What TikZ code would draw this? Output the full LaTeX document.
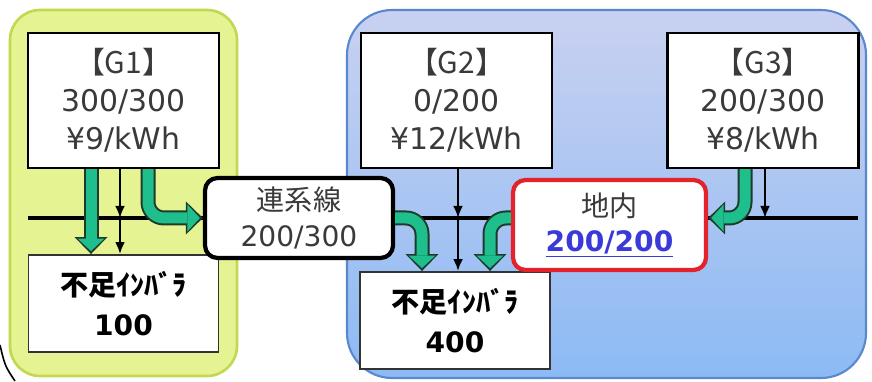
\documentclass[tikz,border=0pt]{standalone}
\usepackage{fontspec}
\setmainfont{DejaVu Sans}
\newfontfamily\jp{Noto Sans CJK JP}
\usetikzlibrary{arrows.meta}
\definecolor{limefill}{HTML}{E6F392}
\definecolor{limeline}{HTML}{C2D850}
\definecolor{bluetop}{HTML}{C9D1F1}
\definecolor{bluebot}{HTML}{8CBAF4}
\definecolor{blueline}{HTML}{5A88CC}
\definecolor{flowgreen}{HTML}{1EBF8C}
\definecolor{flowline}{HTML}{1E3A2A}
\definecolor{txtgray}{HTML}{3A3A3A}
\definecolor{linkblue}{HTML}{3A3AD8}
\definecolor{redline}{HTML}{E3222C}
\tikzset{
  genbox/.style={draw, line width=1.3pt, fill=white, minimum width=3.82cm,
    minimum height=2.7cm, align=center, text=txtgray,
    font=\fontsize{17}{21.5}\selectfont},
  needbox/.style={draw=black!80, line width=1.1pt, fill=white, minimum width=3.8cm,
    minimum height=1.94cm, align=center, font=\fontsize{16}{23}\selectfont\bfseries},
  tiebox/.style={draw, line width=2.4pt, rounded corners=0.25cm, fill=white,
    minimum width=3.76cm, minimum height=1.6cm, align=center, text=txtgray,
    font=\fontsize{16}{20}\selectfont},
  areabox/.style={tiebox, draw=redline, minimum width=3.86cm, minimum height=1.8cm},
  feed/.style={line width=1.5pt, -{Latex[length=0.24cm,width=0.2cm]}},
  flowout/.style={line width=0.3cm, draw=flowline, rounded corners=0.32cm,
    -{Triangle[length=0.34cm,width=0.66cm,line width=0pt]}},
  flowin/.style={line width=0.22cm, draw=flowgreen, rounded corners=0.32cm,
    -{Triangle[length=0.25cm,width=0.54cm,line width=0pt]}, shorten >=0.06cm}
}
\begin{document}
\begin{tikzpicture}
\useasboundingbox (0,0) rectangle (17.44,7.62);
% areas
\draw[limeline, fill=limefill, line width=1.5pt, rounded corners=0.6cm]
  (0.2,0.1) rectangle (4.74,7.42);
\draw[blueline, line width=1.2pt, rounded corners=0.9cm, top color=bluetop,
  bottom color=bluebot] (6.94,0.06) rectangle (17.32,7.42);
\draw[line width=0.9pt] (0,0.72) .. controls (0.1,0.3) .. (0.3,0);
% bus
\coordinate (bw) at (0.56,3.26);
\coordinate (be) at (17.16,3.26);
\draw[line width=2.2pt] (bw) -- (be);
% generators, tie line, shortage
\node[genbox] (g1) at (2.47,5.61) {{\jp【G1】}\\300/300\\¥9/kWh};
\node[genbox] (g2) at (9.13,5.61) {{\jp【G2】}\\0/200\\¥12/kWh};
\node[genbox] (g3) at (15.26,5.61) {{\jp【G3】}\\200/300\\¥8/kWh};
\node[needbox] (s1) at (2.47,1.55) {{\jp\bfseries 不足ｲﾝﾊﾞﾗ}\\100};
\node[needbox] (s2) at (9.1,1.21) {{\jp\bfseries 不足ｲﾝﾊﾞﾗ}\\400};
% thin flows
\coordinate (b1) at (2.40,3.26);
\coordinate (b2) at (9.16,3.26);
\coordinate (b3) at (15.30,3.26);
\draw[feed] (b1 |- g1.south) -- (b1);
\draw[feed] (b1) -- (b1 |- s1.north);
\draw[feed] (b2 |- g2.south) -- (b2);
\draw[feed] (b2) -- (b2 |- s2.north);
\draw[feed] (b3 |- g3.south) -- (b3);
\node[tiebox] (ic) at (5.98,3.26) {{\jp 連系線}\\200/300};
\node[areabox] (rb) at (12.19,3.12) {{\jp 地内}\\\textcolor{linkblue}{\bfseries\underline{200/200}}};
% green flows
\coordinate (f1) at (1.82,0);
\coordinate (f2) at (2.96,0);
\coordinate (f3) at (8.44,0);
\coordinate (f4) at (9.80,0);
\coordinate (f5) at (14.90,0);
\foreach \s in {flowout,flowin}{
  \draw[\s] (f1 |- g1.south) -- (f1 |- s1.north);
  \draw[\s] (f2 |- g1.south) |- (ic.west);
  \draw[\s] (ic.east) -| (f3 |- s2.north);
  \draw[\s] (rb.west |- ic.west) -| (f4 |- s2.north);
  \draw[\s] (f5 |- g3.south) |- (rb.east |- ic.east);
}
\end{tikzpicture}
\end{document}
